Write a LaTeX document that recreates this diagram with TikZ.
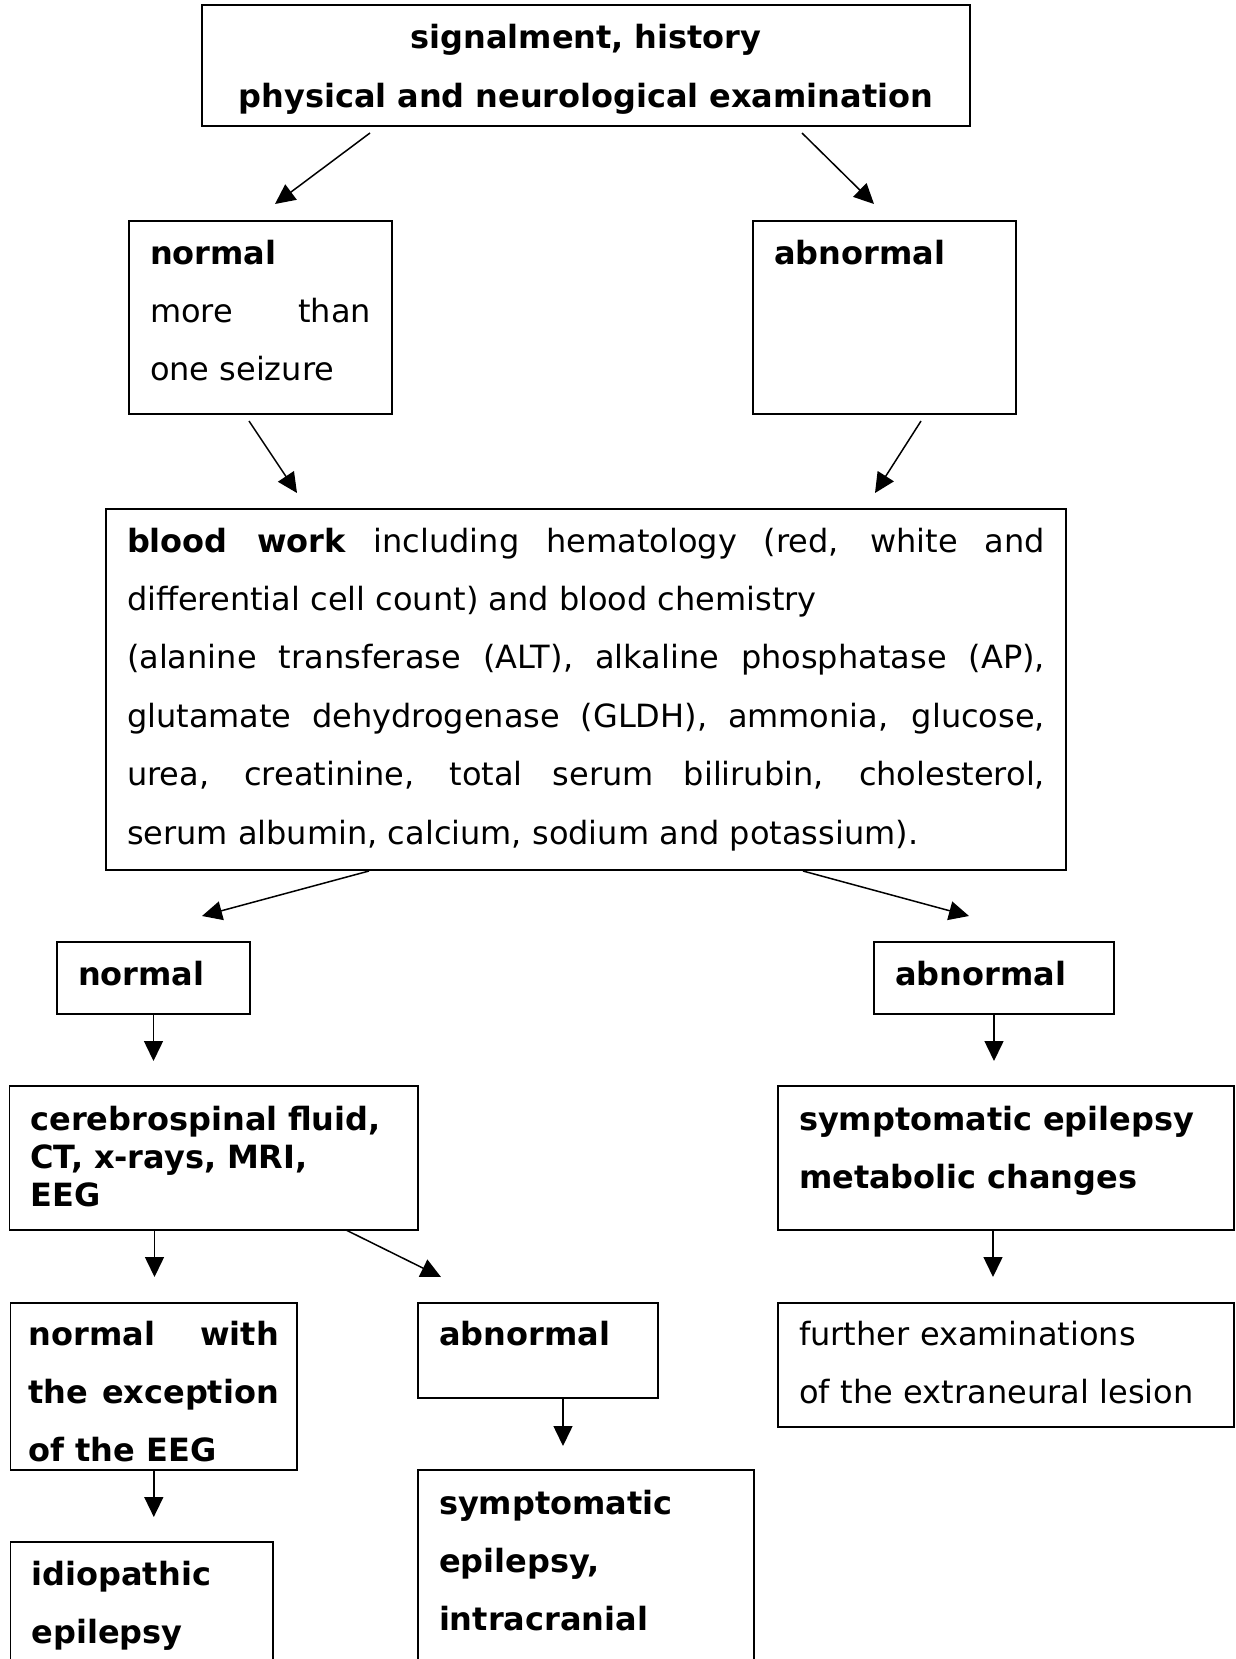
\documentclass[tikz,border=0pt]{standalone}
\usepackage{fontspec}
\setmainfont{DejaVu Sans}
\usetikzlibrary{calc,arrows.meta}
\hyphenpenalty=10000
\exhyphenpenalty=10000
\tolerance=10000

\begin{document}
\begin{tikzpicture}[x=1pt,y=-1pt,
  font=\fontsize{32}{58.4}\selectfont,
  box/.style={draw,line width=1.5pt,anchor=north west,outer sep=0pt,
    inner xsep=21pt,inner ysep=0pt,align=justify},
  arr/.style={line width=1.5pt,-{Triangle[length=20pt,width=19pt]}}]
\useasboundingbox (0,0) rectangle (1236,1659);

\node[box,align=center,text width=726pt,text height=44pt,text depth=77pt] (exam) at (202,5)
  {\textbf{signalment, history}\\\textbf{physical and neurological examination}};

\node[box,text width=221pt,text height=43pt,text depth=150pt] (normalA) at (129,221)
  {\textbf{normal}\newline more than one seizure};
\node[box,text width=221pt,text height=43pt,text depth=150pt] (abnormalA) at (753,221)
  {\textbf{abnormal}};

\node[box,text width=918pt,text height=43pt,text depth=318pt] (blood) at (106,509)
  {\textbf{blood work} including hematology (red, white and\linebreak
   differential cell count) and blood chemistry\newline
   (alanine transferase (ALT), alkaline phosphatase (AP),\linebreak
   glutamate dehydrogenase (GLDH), ammonia, glucose,\linebreak
   urea, creatinine, total serum bilirubin, cholesterol,\linebreak
   serum albumin, calcium, sodium and potassium).};

\node[box,text width=151pt,text height=43pt,text depth=29pt] (normalB) at (57,942)
  {\textbf{normal}};
\node[box,text width=198pt,text height=43pt,text depth=29pt] (abnormalB) at (874,942)
  {\textbf{abnormal}};

\node[box,align=left,font=\fontsize{32}{38}\selectfont,text width=366.5pt,
  text height=44pt,text depth=100pt] (csf) at (9.5,1086)
  {\textbf{cerebrospinal fluid,}\\\textbf{CT, x-rays, MRI,}\\\textbf{EEG}};
\node[box,align=left,text width=414pt,text height=44pt,text depth=100pt] (metab) at (778,1086)
  {\textbf{symptomatic epilepsy}\\\textbf{metabolic changes}};

\node[box,inner xsep=18pt,text width=250.4pt,text height=42pt,text depth=125pt] (normalC) at (10.6,1303)
  {\textbf{normal with\linebreak the exception\linebreak of the EEG}};
\node[box,text width=198pt,text height=42pt,text depth=53pt] (abnormalC) at (418,1303)
  {\textbf{abnormal}};
\node[box,align=left,text width=414pt,text height=42pt,text depth=82pt] (further) at (778,1303)
  {further examinations\\of the extraneural lesion};

\node[box,align=left,text width=220.4pt,text height=43pt,text depth=138pt] (idio) at (10.6,1542)
  {\textbf{idiopathic}\\\textbf{epilepsy}};
\node[box,align=left,text width=294pt,text height=44pt,text depth=198pt] (intra) at (418,1470)
  {\textbf{symptomatic}\\\textbf{epilepsy,}\\\textbf{intracranial}};

\coordinate (e1) at (275,204);
\coordinate (e2) at (874,204);
\coordinate (e3) at (297,493);
\coordinate (e4) at (875,493);
\coordinate (e5) at (202,916);
\coordinate (e6) at (969,916);
\coordinate (e7) at (153.5,1061);
\coordinate (e8) at (994,1061);
\coordinate (e9) at (154.5,1277);
\coordinate (e10) at (441,1277);
\coordinate (e11) at (993,1277);
\coordinate (e12) at (563,1446);
\coordinate (e13) at (153.8,1517);

\draw[arr] ([xshift=-216pt,yshift=-7pt]exam.south) -- (e1);
\draw[arr] ([xshift=216pt,yshift=-7pt]exam.south) -- (e2);
\draw[arr] ([xshift=-11.5pt,yshift=-7pt]normalA.south) -- (e3);
\draw[arr] ([xshift=36.5pt,yshift=-7pt]abnormalA.south) -- (e4);
\draw[arr] ([xshift=-217pt,yshift=-1pt]blood.south) -- (e5);
\draw[arr] ([xshift=217pt,yshift=-1pt]blood.south) -- (e6);
\draw[arr] (normalB.south) -- (e7);
\draw[arr] (abnormalB.south) -- (e8);
\draw[arr] ([xshift=145pt]csf.south west) -- (e9);
\draw[arr] ([xshift=336.5pt]csf.south west) -- (e10);
\draw[arr] ([xshift=215pt]metab.south west) -- (e11);
\draw[arr] ([xshift=145pt]abnormalC.south west) -- (e12);
\draw[arr] (normalC.south) -- (e13);
\end{tikzpicture}
\end{document}
